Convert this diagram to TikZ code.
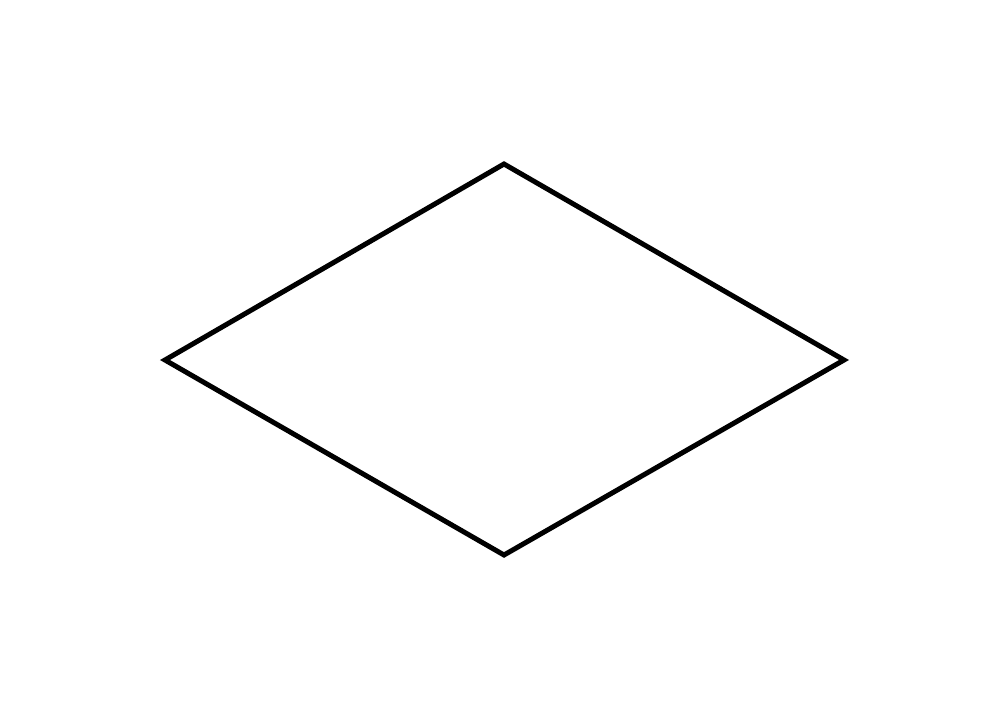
\documentclass[tikz,border=0pt]{standalone}
\begin{document}
\begin{tikzpicture}[x=1pt,y=-1pt,
  shapeline/.style={draw=black,line width=5pt,line join=miter}]
\useasboundingbox (0,0) rectangle (1008,720);
\coordinate (t) at (504,164);
\coordinate (r) at (844,360);
\coordinate (b) at (504,555);
\coordinate (l) at (165,360);
\draw[shapeline] (t) -- (r) -- (b) -- (l) -- cycle;
\end{tikzpicture}
\end{document}
